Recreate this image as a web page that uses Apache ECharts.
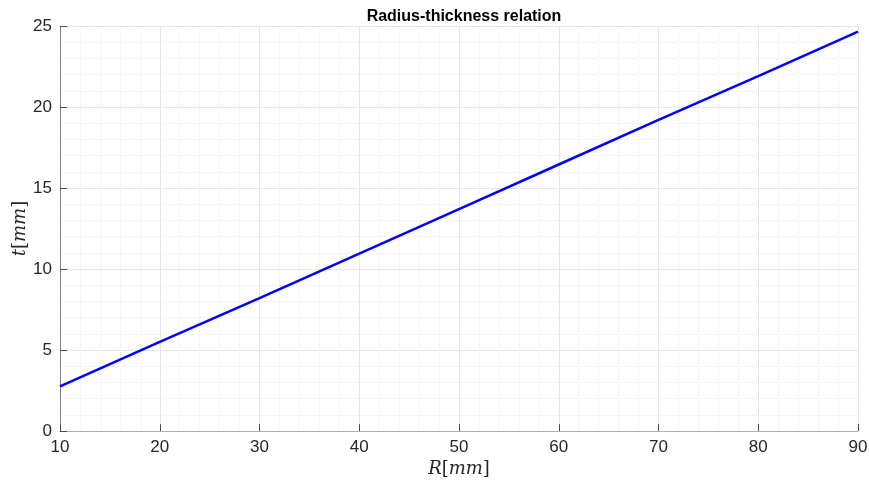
<!DOCTYPE html>
<html>
<head>
<meta charset="utf-8">
<script src="https://cdn.jsdelivr.net/npm/echarts@6/dist/echarts.min.js"></script>
<style>
  html, body { margin: 0; padding: 0; background: #fff; }
  #chart { width: 869px; height: 487px; }
</style>
</head>
<body>
<div id="chart"></div>
<script>
// radius R [mm] and thickness t [mm]
const radius = [10, 20, 30, 40, 50, 60, 70, 80, 90]
const thickness = [2.75, 5.5, 8.2, 10.95, 13.7, 16.45, 19.2, 21.9, 24.65]

const chart = echarts.init(document.getElementById('chart'))

const axisText = { color: '#262626', fontSize: 17, fontFamily: 'Arial, Liberation Sans, sans-serif' }
const labelRich = {
  it: { fontFamily: 'DejaVu Serif', fontStyle: 'italic', fontSize: 18, color: '#262626' },
  rm: { fontFamily: 'DejaVu Serif', fontSize: 18, color: '#262626' }
}

const option = {
  backgroundColor: '#fff',
  animation: false,
  title: {
    text: 'Radius-thickness relation',
    left: 459,
    top: 4,
    textAlign: 'center',
    textStyle: { fontSize: 16, fontWeight: 'bold', color: '#000', fontFamily: 'Arial, Liberation Sans, sans-serif' }
  },
  grid: { left: 60, right: 11, top: 26, bottom: 56, outerBoundsMode: 'none', containLabel: false },
  xAxis: {
    type: 'value',
    min: 10,
    max: 90,
    interval: 10,
    name: '{it|R}{rm|[}{it|mm}{rm|]}',
    nameLocation: 'middle',
    nameGap: 29,
    nameMoveOverlap: false,
    nameTextStyle: { rich: labelRich },
    axisLine: { lineStyle: { color: '#b0b0b0', width: 1 } },
    axisTick: { inside: true, length: 7, lineStyle: { color: '#4d4d4d' } },
    axisLabel: Object.assign({ margin: 8 }, axisText),
    splitLine: { show: true, lineStyle: { color: '#e6e6e6' } },
    minorTick: { show: false, splitNumber: 5 },
    minorSplitLine: { show: true, lineStyle: { color: '#ececec', type: 'dotted' } }
  },
  yAxis: {
    type: 'value',
    min: 0,
    max: 25,
    interval: 5,
    name: '{it|t}{rm|[}{it|mm}{rm|]}',
    nameLocation: 'middle',
    nameGap: 31,
    nameMoveOverlap: false,
    nameTextStyle: { rich: labelRich },
    axisLine: { show: true, lineStyle: { color: '#808080', width: 1 } },
    axisTick: { show: true, inside: true, length: 7, lineStyle: { color: '#4d4d4d' } },
    axisLabel: Object.assign({ margin: 8 }, axisText),
    splitLine: { show: true, lineStyle: { color: '#e6e6e6' } },
    minorTick: { show: false, splitNumber: 5 },
    minorSplitLine: { show: true, lineStyle: { color: '#ececec', type: 'dotted' } }
  },
  series: [{
    type: 'line',
    data: radius.map((r, i) => [r, thickness[i]]),
    showSymbol: false,
    lineStyle: { color: '#0000ff', width: 2.5 },
    itemStyle: { color: '#0000ff' }
  }]
}

chart.setOption(option)
</script>
</body>
</html>
